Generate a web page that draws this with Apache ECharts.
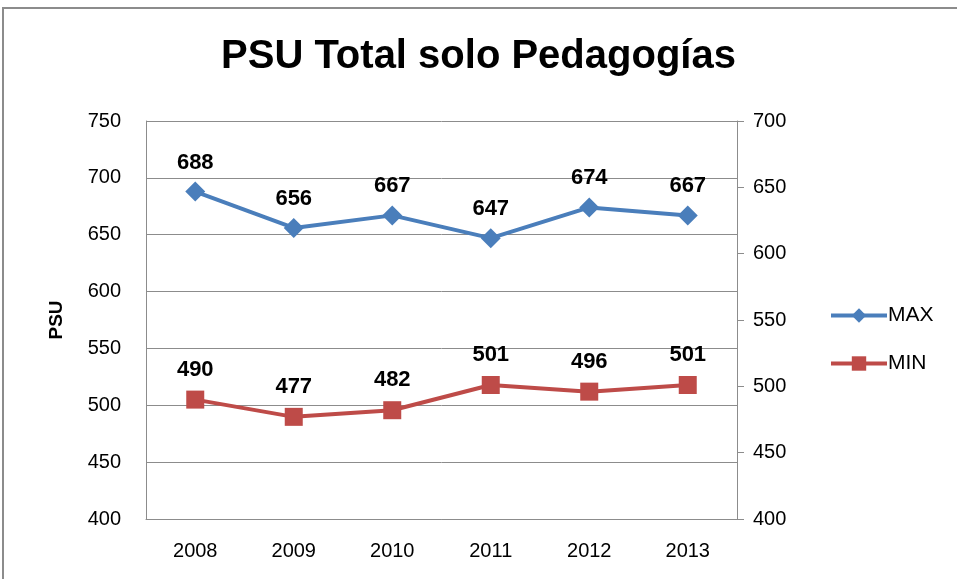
<!DOCTYPE html>
<html>
<head>
<meta charset="utf-8">
<style>
  html, body { margin: 0; padding: 0; background: #fff; }
  #main { width: 957px; height: 579px; }
</style>
<script src="https://cdn.jsdelivr.net/npm/echarts@6/dist/echarts.min.js"></script>
</head>
<body>
<div id="main"></div>
<script>
// datos del gráfico
var years = ['2008', '2009', '2010', '2011', '2012', '2013'];
var maxValues = [688, 656, 667, 647, 674, 667];
var minValues = [490, 477, 482, 501, 496, 501];

var font = '"Liberation Sans", sans-serif';

var chart = echarts.init(document.getElementById('main'));
chart.setOption({
    animation: false,
    title: {
        text: 'PSU Total solo Pedagogías',
        left: 'center',
        top: 32,
        textStyle: { fontFamily: font, fontWeight: 'bold', fontSize: 40, color: '#000' }
    },
    // borde exterior
    graphic: [{
        type: 'rect',
        shape: { x: 3, y: 8, width: 980, height: 600 },
        style: { fill: 'none', stroke: '#8c8c8c', lineWidth: 2 },
        silent: true
    }],
    legend: {
        orient: 'vertical',
        left: 824,
        top: 300,
        itemGap: 27,
        itemWidth: 56,
        itemHeight: 18,
        lineStyle: { width: 4 },
        textStyle: { fontFamily: font, fontSize: 21, color: '#000', padding: [0, 0, 0, -4] },
        data: ['MAX', 'MIN']
    },
    grid: { left: 146, right: 220, top: 121, bottom: 60 },
    xAxis: {
        type: 'category',
        data: years,
        axisLine: { lineStyle: { color: '#8c8c8c', width: 1 } },
        axisTick: { show: false },
        axisLabel: { fontFamily: font, fontSize: 20, color: '#000', margin: 22 }
    },
    yAxis: [{
        type: 'value',
        min: 400,
        max: 750,
        interval: 50,
        name: 'PSU',
        nameLocation: 'middle',
        nameGap: 80,
        nameTextStyle: { fontFamily: font, fontWeight: 'bold', fontSize: 19, color: '#000' },
        axisLine: { show: true, lineStyle: { color: '#8c8c8c' } },
        axisTick: { show: false },
        axisLabel: { fontFamily: font, fontSize: 20, color: '#000', margin: 25 },
        splitLine: { lineStyle: { color: '#8c8c8c', width: 1 } }
    }, {
        type: 'value',
        min: 400,
        max: 700,
        interval: 50,
        position: 'right',
        axisLine: { show: true, lineStyle: { color: '#8c8c8c' } },
        axisTick: { show: true, length: 7, lineStyle: { color: '#8c8c8c' } },
        axisLabel: { fontFamily: font, fontSize: 20, color: '#000', margin: 16 },
        splitLine: { show: false }
    }],
    series: [{
        name: 'MAX',
        type: 'line',
        yAxisIndex: 0,
        data: maxValues,
        symbol: 'diamond',
        symbolSize: 20,
        color: '#4a7ebb',
        lineStyle: { width: 4, color: '#4a7ebb' },
        label: {
            show: true,
            position: 'top',
            distance: 8,
            fontFamily: font,
            fontWeight: 'bold',
            fontSize: 22,
            color: '#000'
        }
    }, {
        name: 'MIN',
        type: 'line',
        yAxisIndex: 1,
        data: minValues,
        symbol: 'rect',
        symbolSize: 18,
        color: '#be4b48',
        lineStyle: { width: 4, color: '#be4b48' },
        label: {
            show: true,
            position: 'top',
            distance: 10,
            fontFamily: font,
            fontWeight: 'bold',
            fontSize: 22,
            color: '#000'
        }
    }]
});
</script>
</body>
</html>
